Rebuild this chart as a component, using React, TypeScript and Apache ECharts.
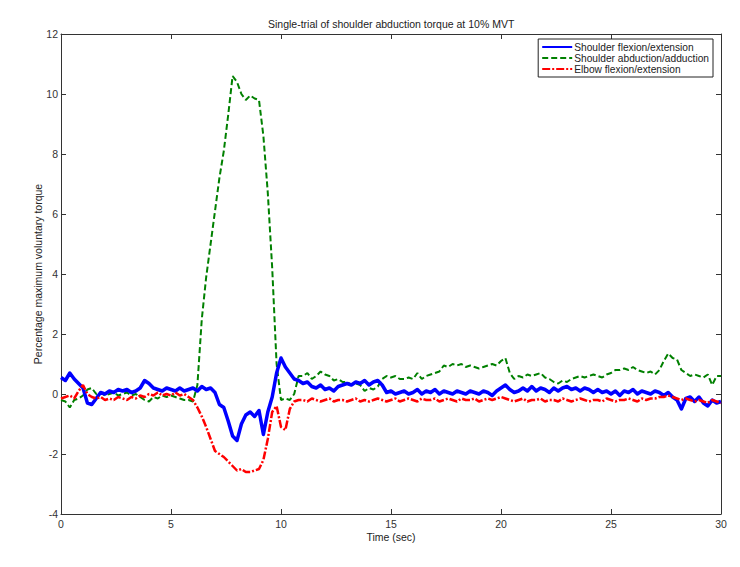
import React, { useEffect, useRef } from "react";
import * as echarts from "echarts";

const titleText = "Single-trial of shoulder abduction torque at 10% MVT";
const xName = "Time (sec)";
const yName = "Percentage maximum voluntary torque";
const seriesNames = ["Shoulder flexion/extension", "Shoulder abduction/adduction", "Elbow flexion/extension"];

const time = [
  0, 0.2, 0.4, 0.6, 0.8, 1, 1.2, 1.4, 1.6, 1.8, 2, 2.2, 2.4, 2.6, 2.8, 3, 3.2, 3.4, 3.6, 3.8,
  4, 4.2, 4.4, 4.6, 4.8, 5, 5.2, 5.4, 5.6, 5.8, 6, 6.2, 6.4, 6.6, 6.8, 7, 7.2, 7.4, 7.6, 7.8,
  8, 8.2, 8.4, 8.6, 8.8, 9, 9.2, 9.4, 9.6, 9.8, 10, 10.2, 10.4, 10.6, 10.8, 11, 11.2, 11.4, 11.6, 11.8,
  12, 12.2, 12.4, 12.6, 12.8, 13, 13.2, 13.4, 13.6, 13.8, 14, 14.2, 14.4, 14.6, 14.8, 15, 15.2, 15.4, 15.6, 15.8,
  16, 16.2, 16.4, 16.6, 16.8, 17, 17.2, 17.4, 17.6, 17.8, 18, 18.2, 18.4, 18.6, 18.8, 19, 19.2, 19.4, 19.6, 19.8,
  20, 20.2, 20.4, 20.6, 20.8, 21, 21.2, 21.4, 21.6, 21.8, 22, 22.2, 22.4, 22.6, 22.8, 23, 23.2, 23.4, 23.6, 23.8,
  24, 24.2, 24.4, 24.6, 24.8, 25, 25.2, 25.4, 25.6, 25.8, 26, 26.2, 26.4, 26.6, 26.8, 27, 27.2, 27.4, 27.6, 27.8,
  28, 28.2, 28.4, 28.6, 28.8, 29, 29.2, 29.4, 29.6, 29.8, 30,
];

const shoulderFlexion = [
  0.55, 0.45, 0.7, 0.5, 0.35, 0.2, -0.3, -0.35, -0.15, 0.05, 0.0, 0.1, 0.05, 0.15, 0.1, 0.15, 0.05, 0.1, 0.2, 0.45,
  0.35, 0.2, 0.15, 0.1, 0.2, 0.15, 0.1, 0.2, 0.1, 0.15, 0.2, 0.1, 0.25, 0.15, 0.2, 0.05, -0.35, -0.45, -0.9, -1.4,
  -1.55, -1.0, -0.7, -0.6, -0.75, -0.55, -1.35, -0.6, -0.1, 0.7, 1.2, 0.9, 0.7, 0.5, 0.45, 0.35, 0.4, 0.25, 0.2, 0.3,
  0.15, 0.2, 0.1, 0.25, 0.3, 0.35, 0.3, 0.4, 0.35, 0.45, 0.3, 0.4, 0.45, 0.3, 0.05, 0.1, 0.0, 0.05, 0.1, 0.0,
  0.05, 0.15, 0.0, 0.1, 0.05, 0.15, 0.0, 0.1, 0.05, 0.0, 0.1, 0.05, 0.0, 0.1, 0.05, 0.0, 0.1, 0.05, -0.05, 0.1,
  0.2, 0.3, 0.15, 0.05, 0.1, 0.2, 0.1, 0.25, 0.1, 0.2, 0.15, 0.05, 0.2, 0.1, 0.2, 0.25, 0.15, 0.2, 0.1, 0.2,
  0.15, 0.05, 0.15, 0.05, 0.1, 0.0, 0.1, -0.05, 0.1, 0.05, 0.15, 0.0, 0.1, 0.05, 0.0, 0.1, 0.05, -0.05, 0.05, -0.1,
  -0.2, -0.5, -0.15, -0.1, -0.25, -0.1, -0.3, -0.4, -0.2, -0.3, -0.25,
];

const shoulderAbduction = [
  -0.2, -0.25, -0.45, -0.2, -0.15, -0.05, 0.15, 0.2, 0.0, 0.05, -0.05, 0.0, 0.05, -0.05, 0.0, 0.05, -0.05, 0.0, -0.1, -0.2,
  -0.25, -0.1, -0.15, -0.05, -0.1, -0.05, -0.1, -0.15, -0.2, -0.2, -0.25, 0.3, 2.5, 3.9, 5.0, 6.1, 7.2, 8.1, 9.3, 10.6,
  10.4, 10.0, 9.8, 9.95, 9.85, 9.8, 8.6, 6.7, 4.2, 1.0, -0.2, -0.15, -0.2, 0.0, 0.6, 0.6, 0.7, 0.5, 0.6, 0.75,
  0.65, 0.6, 0.45, 0.5, 0.4, 0.4, 0.3, 0.35, 0.3, 0.1, 0.2, 0.15, 0.25, 0.5, 0.6, 0.55, 0.6, 0.5, 0.5, 0.55,
  0.5, 0.7, 0.5, 0.6, 0.65, 0.7, 0.75, 0.95, 0.9, 1.0, 0.95, 1.0, 0.9, 0.95, 0.9, 0.85, 0.9, 0.95, 1.0, 0.95,
  1.1, 1.2, 0.7, 0.5, 0.6, 0.55, 0.65, 0.6, 0.65, 0.7, 0.55, 0.5, 0.4, 0.35, 0.45, 0.4, 0.5, 0.55, 0.6, 0.55,
  0.6, 0.65, 0.6, 0.55, 0.65, 0.7, 0.8, 0.8, 0.85, 0.8, 0.9, 0.8, 0.75, 0.7, 0.75, 0.65, 0.8, 1.1, 1.35, 1.2,
  1.15, 0.8, 0.7, 0.6, 0.65, 0.6, 0.55, 0.65, 0.3, 0.6, 0.6,
];

const elbowFlexion = [
  -0.15, -0.1, -0.05, -0.15, 0.1, 0.3, 0.0, -0.1, -0.15, -0.1, -0.2, -0.15, -0.2, -0.1, -0.15, -0.2, -0.1, -0.15, -0.05, -0.1,
  0.0, -0.05, 0.05, -0.05, 0.0, -0.05, 0.05, -0.05, 0.0, -0.1, -0.2, -0.45, -0.75, -1.1, -1.5, -1.9, -2.0, -2.1, -2.25, -2.4,
  -2.55, -2.5, -2.6, -2.6, -2.55, -2.5, -2.2, -1.5, -0.6, -0.4, -1.1, -1.2, -0.5, -0.25, -0.2, -0.2, -0.25, -0.15, -0.2, -0.25,
  -0.2, -0.15, -0.25, -0.2, -0.2, -0.25, -0.2, -0.15, -0.25, -0.2, -0.25, -0.2, -0.15, -0.2, -0.25, -0.2, -0.15, -0.25, -0.2, -0.15,
  -0.2, -0.25, -0.15, -0.2, -0.2, -0.15, -0.25, -0.2, -0.15, -0.2, -0.25, -0.15, -0.2, -0.2, -0.15, -0.25, -0.2, -0.15, -0.2, -0.15,
  -0.1, -0.15, -0.2, -0.25, -0.2, -0.15, -0.25, -0.2, -0.2, -0.15, -0.25, -0.2, -0.2, -0.25, -0.15, -0.2, -0.25, -0.2, -0.15, -0.2,
  -0.25, -0.2, -0.2, -0.25, -0.15, -0.2, -0.25, -0.2, -0.2, -0.15, -0.2, -0.25, -0.15, -0.2, -0.15, -0.15, -0.1, -0.1, -0.05, -0.1,
  -0.15, -0.2, -0.15, -0.2, -0.25, -0.2, -0.25, -0.3, -0.2, -0.25, -0.3,
];

const xTicks = { min: 0, max: 30, interval: 5 };
const yTicks = { min: -4, max: 12, interval: 2 };

const FONT = "'Liberation Sans', Arial, sans-serif";
const AXIS_COLOR = "#333333";

export default function App() {
  const ref = useRef<HTMLDivElement>(null);
  useEffect(() => {
    if (!ref.current) return;
    const chart = echarts.init(ref.current, null, { renderer: "svg" });
    const pair = (vals: number[]) => time.map((t, i) => [t, vals[i]]);
    const axisLine = { show: true, onZero: false, lineStyle: { color: AXIS_COLOR, width: 1 } };
    const axisTick = { show: true, inside: true, length: 5, lineStyle: { color: AXIS_COLOR, width: 1 } };
    const labelStyle = { color: "#333333", fontSize: 10.5, fontFamily: FONT };
    chart.setOption({
      animation: false,
      backgroundColor: "#ffffff",
      title: {
        text: titleText,
        left: 268,
        top: 18,
        padding: 0,
        textStyle: { fontSize: 10.5, fontWeight: "normal", color: "#222222", fontFamily: FONT },
      },
      legend: {
        data: seriesNames,
        orient: "vertical",
        right: 27,
        top: 39,
        padding: [3, 4, 3, 3],
        itemGap: 1,
        itemWidth: 30,
        itemHeight: 12,
        backgroundColor: "#ffffff",
        borderColor: "#222222",
        borderWidth: 1,
        borderRadius: 0,
        itemStyle: { opacity: 0 },
        textStyle: { fontSize: 10.2, color: "#222222", fontFamily: FONT, padding: [0, 0, 0, -3] },
      },
      grid: { left: 61, right: 19, top: 34, bottom: 53, containLabel: false },
      xAxis: [
        {
          type: "value",
          position: "bottom",
          min: xTicks.min,
          max: xTicks.max,
          interval: xTicks.interval,
          axisLine,
          axisTick,
          axisLabel: { ...labelStyle, margin: 4 },
          splitLine: { show: false },
          name: xName,
          nameLocation: "middle",
          nameGap: 17,
          nameMoveOverlap: false,
          nameTextStyle: { ...labelStyle, color: "#222222" },
        },
        {
          type: "value",
          position: "top",
          min: xTicks.min,
          max: xTicks.max,
          interval: xTicks.interval,
          axisLine,
          axisTick,
          axisLabel: { show: false },
          splitLine: { show: false },
        },
      ],
      yAxis: [
        {
          type: "value",
          position: "left",
          min: yTicks.min,
          max: yTicks.max,
          interval: yTicks.interval,
          axisLine,
          axisTick,
          axisLabel: { ...labelStyle, margin: 3 },
          splitLine: { show: false },
          name: yName,
          nameLocation: "middle",
          nameGap: 18,
          nameMoveOverlap: false,
          nameTextStyle: { ...labelStyle, color: "#222222" },
        },
        {
          type: "value",
          position: "right",
          min: yTicks.min,
          max: yTicks.max,
          interval: yTicks.interval,
          axisLine,
          axisTick,
          axisLabel: { show: false },
          splitLine: { show: false },
        },
      ],
      series: [
        {
          name: seriesNames[0],
          type: "line",
          data: pair(shoulderFlexion),
          symbol: "none",
          z: 3,
          lineStyle: { color: "#0000ff", width: 3.5, type: "solid", join: "round" },
          itemStyle: { color: "#0000ff" },
        },
        {
          name: seriesNames[1],
          type: "line",
          data: pair(shoulderAbduction),
          symbol: "none",
          z: 2,
          lineStyle: { color: "#008000", width: 2, type: [6, 3] },
          itemStyle: { color: "#008000" },
        },
        {
          name: seriesNames[2],
          type: "line",
          data: pair(elbowFlexion),
          symbol: "none",
          z: 4,
          lineStyle: { color: "#ff0000", width: 2.5, type: [8, 2, 2, 2] },
          itemStyle: { color: "#ff0000" },
        },
      ],
    });
    return () => chart.dispose();
  }, []);
  return <div ref={ref} style={{ width: 740, height: 567, margin: -8 }} />;
}
